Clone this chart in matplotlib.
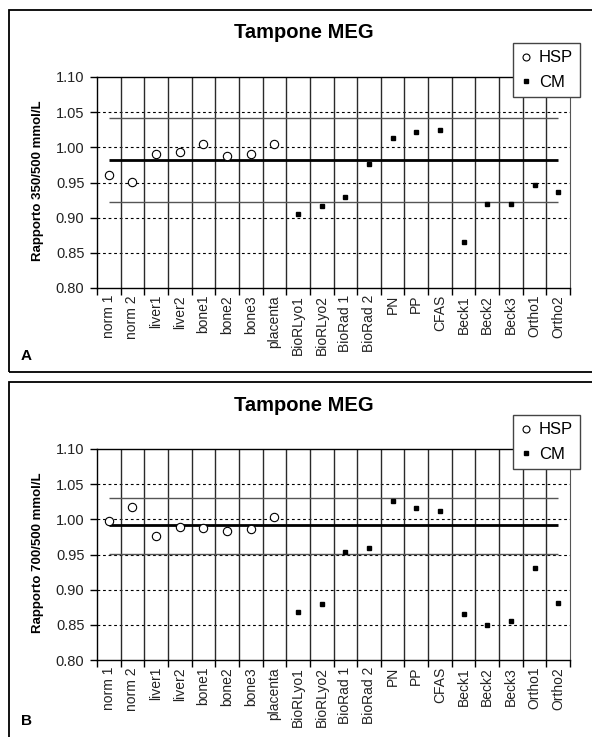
import matplotlib
matplotlib.use("Agg")
import matplotlib.pyplot as plt
import numpy as np
from matplotlib.lines import Line2D
from matplotlib.patches import Rectangle
from matplotlib.ticker import FixedLocator, FormatStrFormatter

plt.rcParams["font.family"] = ["Liberation Sans", "DejaVu Sans"]

categories = [
    "norm 1", "norm 2", "liver1", "liver2", "bone1", "bone2", "bone3",
    "placenta", "BioRLyo1", "BioRLyo2", "BioRad 1", "BioRad 2", "PN", "PP",
    "CFAS", "Beck1", "Beck2", "Beck3", "Ortho1", "Ortho2",
]

# ratio 350/500 mmol/L
hsp_350 = [0.960, 0.951, 0.991, 0.993, 1.005, 0.988, 0.991, 1.005]
cm_350 = [0.905, 0.917, 0.930, 0.976, 1.013, 1.022, 1.024, 0.865, 0.919,
          0.919, 0.947, 0.937]
mean_350 = 0.982
limits_350 = [0.922, 1.041]

# ratio 700/500 mmol/L
hsp_700 = [0.998, 1.018, 0.977, 0.989, 0.988, 0.984, 0.986, 1.003]
cm_700 = [0.868, 0.880, 0.953, 0.959, 1.026, 1.016, 1.012, 0.865, 0.850,
          0.855, 0.931, 0.881]
mean_700 = 0.992
limits_700 = [0.951, 1.030]

W, H = 592, 737
fig = plt.figure(figsize=(W / 100, H / 100), dpi=100)


def px_box(left, top, right, bottom):
    return [left / W, 1 - bottom / H, (right - left) / W, (bottom - top) / H]


def draw_panel(ax, hsp, cm, mean, limits):
    n = len(categories)
    x_hsp = np.arange(len(hsp))
    x_cm = np.arange(len(hsp), n)

    ax.set_xlim(-0.5, n - 0.5)
    ax.set_ylim(0.80, 1.10)

    # dashed horizontal grid, solid vertical separators
    for y in np.arange(0.85, 1.06, 0.05):
        ax.axhline(y, color="black", lw=0.8, ls=(0, (2.5, 2.5)), zorder=1)
    for k in range(1, n):
        ax.axvline(k - 0.5, color="#2a2a2a", lw=1.0, zorder=1)

    ax.hlines(limits, 0, n - 1, color="#555555", lw=1.0, zorder=2)
    ax.hlines(mean, 0, n - 1, color="black", lw=2.0, zorder=2)

    ax.plot(x_hsp, hsp, ls="none", marker="o", ms=6, mfc="white",
            mec="black", mew=0.8, zorder=3)
    ax.plot(x_cm, cm, ls="none", marker="s", ms=3.5, mfc="black",
            mec="black", zorder=3)

    ax.xaxis.set_major_locator(FixedLocator(np.arange(-0.5, n, 1.0)))
    ax.xaxis.set_minor_locator(FixedLocator(np.arange(n)))
    ax.set_xticklabels([], minor=False)
    ax.set_xticklabels(categories, minor=True, rotation=90, fontsize=10,
                       color="#222222")
    ax.tick_params(axis="x", which="major", direction="out", length=5,
                   width=1, color="black")
    ax.tick_params(axis="x", which="minor", length=0, pad=5)

    ax.set_yticks(np.arange(0.80, 1.101, 0.05))
    ax.yaxis.set_major_formatter(FormatStrFormatter("%.2f"))
    ax.tick_params(axis="y", direction="out", length=5, width=1,
                   labelsize=10.5, labelcolor="#222222", pad=4)

    for side in ["left", "bottom", "top"]:
        ax.spines[side].set_color("black")
        ax.spines[side].set_linewidth(1.0)
    ax.spines["right"].set_color("#555555")


def draw_legend(anchor):
    handles = [
        Line2D([], [], ls="none", marker="o", ms=5, mfc="white",
               mec="black", mew=0.8),
        Line2D([], [], ls="none", marker="s", ms=3.5, mfc="black",
               mec="black"),
    ]
    leg = fig.legend(handles, ["HSP", "CM"], loc="upper left",
                     bbox_to_anchor=anchor, bbox_transform=fig.transFigure,
                     fontsize=12, frameon=True, fancybox=False,
                     edgecolor="#444444", framealpha=1, handlelength=0.6,
                     handletextpad=0.5, borderpad=0.45, labelspacing=0.55,
                     borderaxespad=0)
    leg.get_frame().set_linewidth(1.0)


panels = [
    (hsp_350, cm_350, mean_350, limits_350, "Rapporto 350/500 mmol/L",
     "A", 0, 356),
    (hsp_700, cm_700, mean_700, limits_700, "Rapporto 700/500 mmol/L",
     "B", 372, 721),
]

for hsp, cm, mean, limits, ylabel, tag, dy, tag_y in panels:
    # outer frame of the panel (runs off the right edge)
    top = 10 + dy
    bottom = 372 + dy if dy == 0 else 745
    fig.add_artist(Rectangle((9 / W, 1 - bottom / H), 1.0, (bottom - top) / H,
                             transform=fig.transFigure, fill=False,
                             ec="black", lw=1.3, clip_on=False))

    ax = fig.add_axes(px_box(97, 77 + dy, 570, 288 + dy))
    draw_panel(ax, hsp, cm, mean, limits)

    fig.text(304 / W, 1 - (33 + dy) / H, "Tampone MEG", ha="center",
             va="center", fontsize=14.5, fontweight="bold")
    fig.text(38 / W, 1 - (181 + dy) / H, ylabel, rotation=90, ha="center",
             va="center", fontsize=9.5, fontweight="bold")
    fig.text(26 / W, 1 - tag_y / H, tag, ha="center", va="center",
             fontsize=11, fontweight="bold")
    draw_legend((513 / W, 1 - (43 + dy) / H))

fig.savefig("out.png", dpi=100)
